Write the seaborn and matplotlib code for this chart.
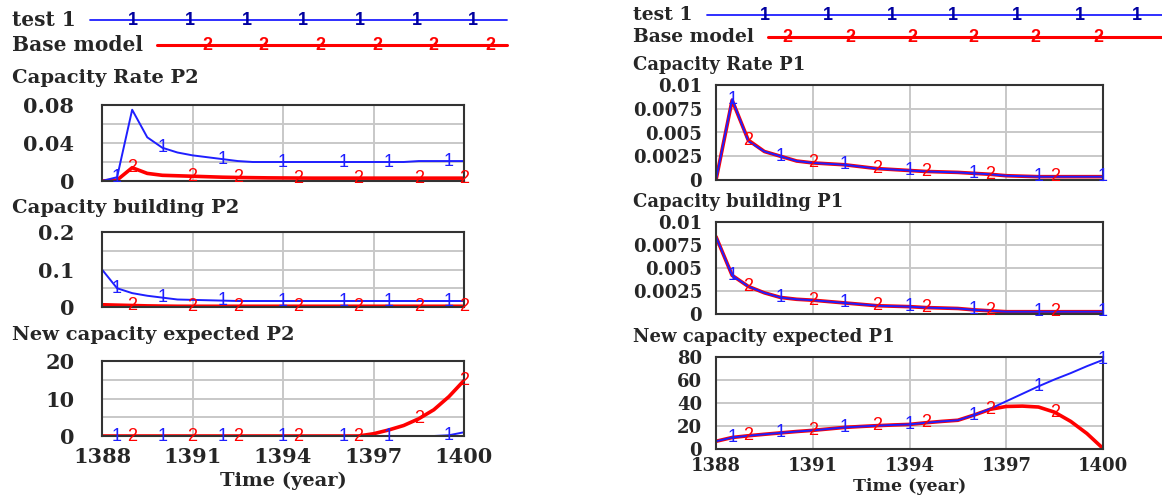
import numpy as np
import pandas as pd
import seaborn as sns
from matplotlib import pyplot as plt

# --- data ---
years = [1388.0, 1388.5, 1389.0, 1389.5, 1390.0, 1390.5, 1391.0, 1391.5, 1392.0,
         1392.5, 1393.0, 1393.5, 1394.0, 1394.5, 1395.0, 1395.5, 1396.0, 1396.5,
         1397.0, 1397.5, 1398.0, 1398.5, 1399.0, 1399.5, 1400.0]

rate_p2_test = [0.0, 0.004, 0.075, 0.046, 0.035, 0.030, 0.027, 0.025, 0.023,
                0.021, 0.020, 0.020, 0.020, 0.020, 0.020, 0.020, 0.020, 0.020,
                0.020, 0.020, 0.020, 0.021, 0.021, 0.021, 0.021]
rate_p2_base = [0.0, 0.001, 0.014, 0.008, 0.006, 0.0055, 0.005, 0.0045, 0.004,
                0.0037, 0.0035, 0.0033, 0.0032, 0.0031, 0.003, 0.003, 0.003, 0.003,
                0.003, 0.003, 0.003, 0.003, 0.003, 0.003, 0.003]

build_p2_test = [0.100, 0.050, 0.037, 0.030, 0.025, 0.020, 0.019, 0.018, 0.017,
                 0.016, 0.016, 0.016, 0.016, 0.016, 0.016, 0.016, 0.016, 0.016,
                 0.016, 0.016, 0.016, 0.016, 0.016, 0.016, 0.016]
build_p2_base = [0.006, 0.005, 0.004, 0.003, 0.0025, 0.002, 0.002, 0.002, 0.002,
                 0.002, 0.002, 0.002, 0.002, 0.002, 0.002, 0.002, 0.002, 0.002,
                 0.002, 0.002, 0.002, 0.002, 0.002, 0.002, 0.002]

newcap_p2_test = [0, 0, 0, 0, 0, 0, 0, 0, 0, 0, 0, 0, 0, 0, 0, 0, 0, 0,
                  0, 0, 0, 0, 0, 0.2, 1.0]
newcap_p2_base = [0, 0, 0, 0, 0, 0, 0, 0, 0, 0, 0, 0, 0, 0, 0, 0, 0, 0,
                  0.6, 1.6, 2.8, 4.6, 7.0, 10.5, 14.8]

rate_p1_test = [0.0, 0.0085, 0.0041, 0.003, 0.0025, 0.002, 0.0018, 0.0017, 0.0016,
                0.0014, 0.0012, 0.0011, 0.001, 0.0009, 0.00085, 0.0008, 0.0007, 0.0006,
                0.00045, 0.0004, 0.00035, 0.00035, 0.00035, 0.00035, 0.00035]
rate_p1_base = [0.0, 0.0084, 0.0042, 0.003, 0.0025, 0.002, 0.0018, 0.0017, 0.0016,
                0.0014, 0.0012, 0.0011, 0.001, 0.0009, 0.00085, 0.0008, 0.0007, 0.0006,
                0.00045, 0.0004, 0.00035, 0.00035, 0.00035, 0.00035, 0.00035]

build_p1_test = [0.0084, 0.0042, 0.003, 0.0023, 0.0018, 0.0016, 0.0015, 0.00135, 0.0012,
                 0.00105, 0.0009, 0.00085, 0.0008, 0.0007, 0.00065, 0.0006, 0.00045, 0.00035,
                 0.00025, 0.00025, 0.00025, 0.00025, 0.00025, 0.00025, 0.00025]
build_p1_base = [0.0084, 0.0042, 0.003, 0.0023, 0.0018, 0.0016, 0.0015, 0.00135, 0.0012,
                 0.00105, 0.0009, 0.00085, 0.0008, 0.0007, 0.00065, 0.0006, 0.00045, 0.00035,
                 0.00025, 0.00025, 0.00025, 0.00025, 0.00025, 0.00025, 0.00025]

newcap_p1_test = [6.7, 10.0, 11.5, 12.8, 14.0, 15.2, 16.2, 17.5, 18.8, 19.6, 20.3, 20.9,
                  21.4, 22.8, 24.0, 25.0, 29.5, 35.0, 41.5, 48.0, 54.5, 60.5, 66.0, 72.0, 77.5]
newcap_p1_base = [6.7, 10.0, 11.5, 12.8, 14.0, 15.2, 16.2, 17.5, 18.8, 19.6, 20.3, 20.9,
                  21.4, 22.8, 24.0, 25.0, 29.5, 34.5, 37.0, 37.3, 36.5, 32.0, 24.0, 13.5, 0.5]

# where the "1" / "2" run markers sit along each curve
marks_left_test = [1388.5, 1390.0, 1392.0, 1394.0, 1396.0, 1397.5, 1399.5]
marks_left_base = [1389.0, 1391.0, 1392.5, 1394.5, 1396.5, 1398.5, 1400.0]
marks_right_test = [1388.5, 1390.0, 1392.0, 1394.0, 1396.0, 1398.0, 1400.0]
marks_right_base = [1389.0, 1391.0, 1393.0, 1394.5, 1396.5, 1398.5]

year_ticks = [1388, 1391, 1394, 1397, 1400]

BLUE = "#1f1fff"
RED = "#ff0000"
SERIF = ["DejaVu Serif"]

sns.set_theme(style="white")
plt.rcParams['font.family'] = SERIF

fig = plt.figure(figsize=(11.62, 4.98), dpi=100)
W, H = 1162, 498


def px_axes(x0, y0, x1, y1):
    return fig.add_axes([x0 / W, 1 - y1 / H, (x1 - x0) / W, (y1 - y0) / H])


def draw_panel(ax, test, base, ymax, ygrid, ylabels, mtest, mbase, yfs, xfs, show_x):
    df = pd.DataFrame({"year": years, "test": test, "base": base})
    sns.lineplot(data=df, x="year", y="base", ax=ax, color=RED, linewidth=2.6)
    sns.lineplot(data=df, x="year", y="test", ax=ax, color=BLUE, linewidth=1.4)
    for t in mbase:
        ax.text(t, np.interp(t, years, base), "2", color=RED, fontsize=13,
                ha="center", va="center", family="Liberation Sans", zorder=5)
    for t in mtest:
        ax.text(t, np.interp(t, years, test), "1", color=BLUE, fontsize=13,
                ha="center", va="center", family="Liberation Sans", zorder=6)
    ax.set_xlim(1388, 1400)
    ax.set_ylim(0, ymax)
    ax.set_xticks(year_ticks)
    ax.set_yticks(ygrid)
    ax.set_yticklabels(ylabels, fontsize=yfs, fontweight="bold")
    if show_x:
        ax.set_xticklabels([str(y) for y in year_ticks], fontsize=xfs, fontweight="bold")
    else:
        ax.set_xticklabels([])
    ax.grid(True, color="#c8c8c8", linewidth=1.4)
    ax.tick_params(length=0)
    ax.set_xlabel("")
    ax.set_ylabel("")
    for s in ax.spines.values():
        s.set_color("#333333")
        s.set_linewidth(1.5)
        s.set_visible(True)


# left column
ax = px_axes(102, 105, 464, 181)
draw_panel(ax, rate_p2_test, rate_p2_base, 0.08, [0, 0.02, 0.04, 0.06, 0.08],
           ["0", "", "0.04", "", "0.08"], marks_left_test, marks_left_base, 15, 15, False)
ax.tick_params(axis="y", pad=20)
ax = px_axes(102, 232, 464, 307)
draw_panel(ax, build_p2_test, build_p2_base, 0.2, [0, 0.05, 0.1, 0.15, 0.2],
           ["0", "", "0.1", "", "0.2"], marks_left_test, marks_left_base, 15, 15, False)
ax.tick_params(axis="y", pad=20)
ax = px_axes(102, 361, 464, 436)
draw_panel(ax, newcap_p2_test, newcap_p2_base, 20, [0, 5, 10, 15, 20],
           ["0", "", "10", "", "20"], marks_left_test, marks_left_base, 15, 15, True)
ax.tick_params(axis="y", pad=20)
ax.tick_params(axis="x", pad=8)
ax.set_xlabel("Time (year)", fontsize=14, fontweight="bold", labelpad=3)

# right column
rlabels = ["0", "0.0025", "0.005", "0.0075", "0.01"]
ax = px_axes(716, 85, 1103, 180)
draw_panel(ax, rate_p1_test, rate_p1_base, 0.01, [0, 0.0025, 0.005, 0.0075, 0.01],
           rlabels, marks_right_test, marks_right_base, 13, 13, False)
ax.tick_params(axis="y", pad=10)
ax = px_axes(716, 222, 1103, 314)
draw_panel(ax, build_p1_test, build_p1_base, 0.01, [0, 0.0025, 0.005, 0.0075, 0.01],
           rlabels, marks_right_test, marks_right_base, 13, 13, False)
ax.tick_params(axis="y", pad=10)
ax = px_axes(716, 357, 1103, 449)
draw_panel(ax, newcap_p1_test, newcap_p1_base, 80, [0, 20, 40, 60, 80],
           ["0", "20", "40", "60", "80"], marks_right_test, marks_right_base, 13, 13, True)
ax.tick_params(axis="y", pad=10)
ax.tick_params(axis="x", pad=6)
ax.set_xlabel("Time (year)", fontsize=12.5, fontweight="bold", labelpad=2)

# overlay for legend rows and panel titles, in pixel units
ov = fig.add_axes([0, 0, 1, 1], zorder=-1)
ov.set_xlim(0, W)
ov.set_ylim(H, 0)
ov.axis("off")


def legend_row(x_text, y, label, x0, x1, marks, digit, color, fsize):
    ov.text(x_text, y, label, fontsize=fsize, fontweight="bold", va="center", ha="left")
    ov.plot([x0, x1], [y, y], color=color, linewidth=2.2 if digit == "2" else 1.3)
    for m in marks:
        ov.text(m, y, digit, color=color if digit == "2" else "#0000a0", fontsize=13,
                fontweight="bold", ha="center", va="center", family="Liberation Sans")


legend_row(12, 20, "test 1", 90, 507, [133, 190, 247, 303, 360, 417, 473], "1", BLUE, 14.5)
legend_row(12, 45, "Base model", 157, 507, [207, 263, 320, 377, 433, 490], "2", RED, 14.5)
legend_row(633, 15, "test 1", 707, 1162, [765, 828, 892, 953, 1017, 1080, 1137], "1", BLUE, 13.5)
legend_row(633, 37, "Base model", 768, 1162, [787, 850, 912, 973, 1035, 1098], "2", RED, 13.5)

titles = [(12, 78, "Capacity Rate P2", 14), (12, 208, "Capacity building P2", 14),
          (12, 335, "New capacity expected P2", 14), (633, 65, "Capacity Rate P1", 13),
          (633, 202, "Capacity building P1", 13), (633, 337, "New capacity expected P1", 13)]
for x, y, s, fs in titles:
    ov.text(x, y, s, fontsize=fs, fontweight="bold", va="center", ha="left")

fig.savefig("out.png", dpi=100)
